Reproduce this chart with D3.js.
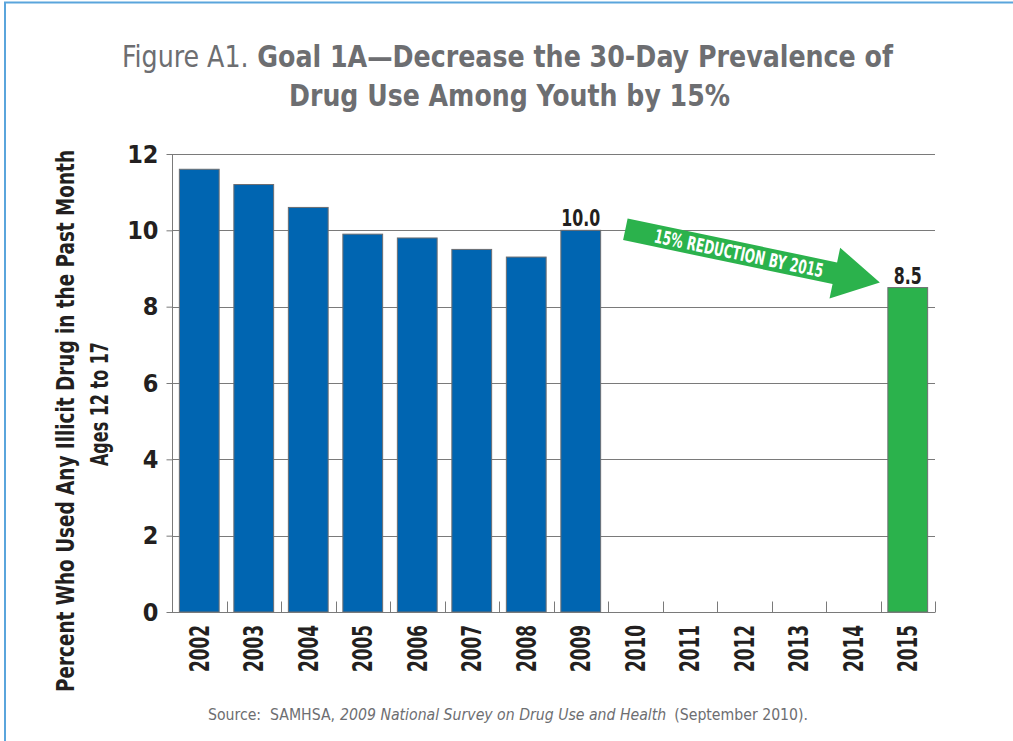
<!DOCTYPE html>
<html>
<head>
<meta charset="utf-8">
<script src="https://cdn.jsdelivr.net/npm/d3@7"></script>
<style>
  body { margin: 0; background: #fff; }
  svg { display: block; }
  text { font-family: "Liberation Sans Narrow", "DejaVu Sans Condensed", "Liberation Sans", sans-serif; white-space: pre; }
</style>
</head>
<body>
<svg id="chart"></svg>
<script>
// Chart data
var years = ['2002', '2003', '2004', '2005', '2006', '2007', '2008', '2009',
  '2010', '2011', '2012', '2013', '2014', '2015'];
var values = [11.6, 11.2, 10.6, 9.9, 9.8, 9.5, 9.3, 10.0, null, null, null, null, null, 8.5];
var targetYear = '2015';
var labelledYears = ['2009', '2015'];
var yTicks = [0, 2, 4, 6, 8, 10, 12];
var arrowText = '15% REDUCTION BY 2015';

var width = 1013;
var height = 741;
var margin = { top: 154, right: 78, bottom: 129, left: 172 };

var svg = d3.select('#chart')
  .attr('width', width)
  .attr('height', height);

/**
 * Writes a line made of several styled runs, fitted to a given width
 * and centred on cx. Each run is its own text element, trimmed, with a
 * gap where the run had a space. If fitSize is set the font is shrunk
 * first so the runs are only ever stretched, never squeezed.
 */
function runLine(parent, runs, cx, baseline, size, targetWidth, fill, fitSize) {
  var g = parent.append('g').attr('fill', fill).attr('font-size', size);
  var nodes = runs.map(function(r) {
    return g.append('text')
      .attr('y', baseline)
      .attr('font-weight', r.bold ? 'bold' : null)
      .attr('font-style', r.italic ? 'italic' : null)
      .text(r.text.trim());
  });
  var measure = function() {
    return nodes.map(function(n) { return n.node().getComputedTextLength(); });
  };
  var gapSize = size * 0.28;
  var gaps = runs.slice(1).map(function(r, i) {
    var g0 = (/\s$/.test(runs[i].text) || /^\s/.test(r.text)) ? gapSize : 0;
    return g0 + (runs[i].italic ? 3 : 0);
  });
  var widths = measure();
  var k = (targetWidth - d3.sum(gaps)) / d3.sum(widths);
  if (fitSize && k < 1) {
    g.attr('font-size', size * k * 0.99);
    widths = measure();
    k = (targetWidth - d3.sum(gaps)) / d3.sum(widths);
  }
  var xPos = cx - targetWidth / 2;
  nodes.forEach(function(n, i) {
    n.attr('x', xPos)
      .attr('textLength', widths[i] * k)
      .attr('lengthAdjust', 'spacingAndGlyphs');
    xPos += widths[i] * k + (gaps[i] || 0);
  });
  return g;
}

// outer blue frame (runs off the right and bottom)
svg.append('path')
  .attr('d', 'M5,' + height + 'V2.5H' + width)
  .attr('fill', 'none')
  .attr('stroke', '#5aa5dc')
  .attr('stroke-width', 2);

// Title
runLine(svg, [
  { text: 'Figure A1. ' },
  { text: 'Goal 1A\u2014Decrease the 30-Day Prevalence of', bold: true }
], 507.5, 67, 31, 771, '#6d6e71');
runLine(svg, [
  { text: 'Drug Use Among Youth by 15%', bold: true }
], 509.5, 106, 31, 441, '#6d6e71');

// Scales
var x = d3.scaleBand()
  .domain(years)
  .range([margin.left, width - margin.right])
  .paddingInner(0.27)
  .paddingOuter(0.135);

var y = d3.scaleLinear()
  .domain([0, 12])
  .range([height - margin.bottom, margin.top]);

// Gridlines
svg.append('g')
  .selectAll('line')
  .data(yTicks.filter(function(d) { return d > 0; }))
  .enter()
  .append('line')
  .attr('x1', margin.left)
  .attr('x2', width - margin.right)
  .attr('y1', function(d) { return Math.round(y(d)) + 0.5; })
  .attr('y2', function(d) { return Math.round(y(d)) + 0.5; })
  .attr('stroke', '#7a7a7a')
  .attr('stroke-width', 1);

// Bars
var data = years.map(function(yr, i) { return { year: yr, value: values[i] }; })
  .filter(function(d) { return d.value != null; });

svg.append('g')
  .selectAll('rect')
  .data(data)
  .enter()
  .append('rect')
  .attr('x', function(d) { return x(d.year); })
  .attr('y', function(d) { return y(d.value); })
  .attr('width', x.bandwidth())
  .attr('height', function(d) { return y(0) - y(d.value); })
  .attr('fill', function(d) { return d.year === targetYear ? '#2bb24c' : '#0065b1'; })
  .attr('stroke', '#6d6e71')
  .attr('stroke-width', 1);

// Value labels
svg.append('g')
  .selectAll('text')
  .data(data.filter(function(d) { return labelledYears.indexOf(d.year) >= 0; }))
  .enter()
  .append('text')
  .attr('x', function(d) { return x(d.year) + x.bandwidth() / 2; })
  .attr('y', function(d) { return y(d.value) - 4; })
  .attr('text-anchor', 'middle')
  .attr('font-size', 23)
  .attr('font-weight', 'bold')
  .attr('fill', '#231f20')
  .attr('textLength', function(d) { return d.year === targetYear ? 28 : 39; })
  .attr('lengthAdjust', 'spacingAndGlyphs')
  .text(function(d) { return d.value.toFixed(1); });

// Left axis
var leftAxis = d3.axisLeft(y)
  .tickValues(yTicks)
  .tickSize(6)
  .tickPadding(8)
  .tickFormat(d3.format('d'));

var yAxis = svg.append('g')
  .attr('transform', 'translate(' + (margin.left + 0.5) + ',0)')
  .call(leftAxis);
yAxis.select('.domain').attr('stroke', '#7a7a7a').attr('d', 'M0,' + y(12) + 'V' + y(0));
yAxis.selectAll('.tick line').attr('stroke', '#7a7a7a');
yAxis.selectAll('.tick text')
  .attr('font-size', 25)
  .attr('font-weight', 'bold')
  .attr('fill', '#231f20')
  .attr('font-family', '"Liberation Sans Narrow", "DejaVu Sans Condensed", sans-serif');

// Bottom baseline with ticks at category boundaries
var base = Math.round(y(0)) + 0.5;
svg.append('line')
  .attr('x1', margin.left).attr('x2', width - margin.right)
  .attr('y1', base).attr('y2', base)
  .attr('stroke', '#7a7a7a');

svg.append('g')
  .selectAll('line')
  .data(years)
  .enter()
  .append('line')
  .attr('x1', function(d) { return Math.round(x(d) + x.bandwidth() + x.step() * x.paddingInner() / 2) + 0.5; })
  .attr('x2', function(d) { return Math.round(x(d) + x.bandwidth() + x.step() * x.paddingInner() / 2) + 0.5; })
  .attr('y1', base).attr('y2', base - 11)
  .attr('stroke', '#7a7a7a');

// Year labels (rotated)
svg.append('g')
  .selectAll('text')
  .data(years)
  .enter()
  .append('text')
  .attr('transform', function(d) {
    return 'translate(' + (x(d) + x.bandwidth() / 2) + ',' + 625 + ') rotate(-90)';
  })
  .attr('text-anchor', 'end')
  .attr('dy', '0.36em')
  .attr('font-size', 27)
  .attr('font-weight', 'bold')
  .attr('fill', '#231f20')
  .attr('textLength', 47)
  .attr('lengthAdjust', 'spacingAndGlyphs')
  .text(function(d) { return d; });

// Y axis title
var yTitle = svg.append('g').attr('fill', '#231f20').attr('font-weight', 'bold');
yTitle.append('text')
  .attr('transform', 'translate(74,421) rotate(-90)')
  .attr('text-anchor', 'middle')
  .attr('font-size', 25)
  .attr('textLength', 542)
  .attr('lengthAdjust', 'spacingAndGlyphs')
  .text('Percent Who Used Any Illicit Drug in the Past Month');
yTitle.append('text')
  .attr('transform', 'translate(108,404) rotate(-90)')
  .attr('text-anchor', 'middle')
  .attr('font-size', 25)
  .attr('textLength', 124)
  .attr('lengthAdjust', 'spacingAndGlyphs')
  .text('Ages 12 to 17');

// Reduction arrow, from the 2009 level to the 2015 target
var tail = [x('2010') + 10, y(10.0) - 1];
var tip = [x(targetYear) - 8, y(8.5) - 5];
var dx = tip[0] - tail[0], dy = tip[1] - tail[1];
var len = Math.sqrt(dx * dx + dy * dy);
var angle = Math.atan2(dy, dx) * 180 / Math.PI;
var shaft = 11, head = 26, headLen = 46;
var arrowPts = [[0, -shaft], [len - headLen, -shaft], [len - headLen, -head], [len, 0],
  [len - headLen, head], [len - headLen, shaft], [0, shaft]];

var arrow = svg.append('g')
  .attr('transform', 'translate(' + tail[0] + ',' + tail[1] + ') rotate(' + angle + ')');
arrow.append('polygon')
  .attr('points', arrowPts.map(function(p) { return p.join(','); }).join(' '))
  .attr('fill', '#2bb24c');
arrow.append('text')
  .attr('x', 30)
  .attr('y', 7)
  .attr('font-size', 19)
  .attr('font-weight', 'bold')
  .attr('fill', '#fff')
  .attr('textLength', 172)
  .attr('lengthAdjust', 'spacingAndGlyphs')
  .text(arrowText);

// Source
runLine(svg, [
  { text: 'Source:  SAMHSA, ' },
  { text: '2009 National Survey on Drug Use and Health', italic: true },
  { text: ' (September 2010).' }
], 508, 720, 18, 600, '#6d6e71', true);
</script>
</body>
</html>
